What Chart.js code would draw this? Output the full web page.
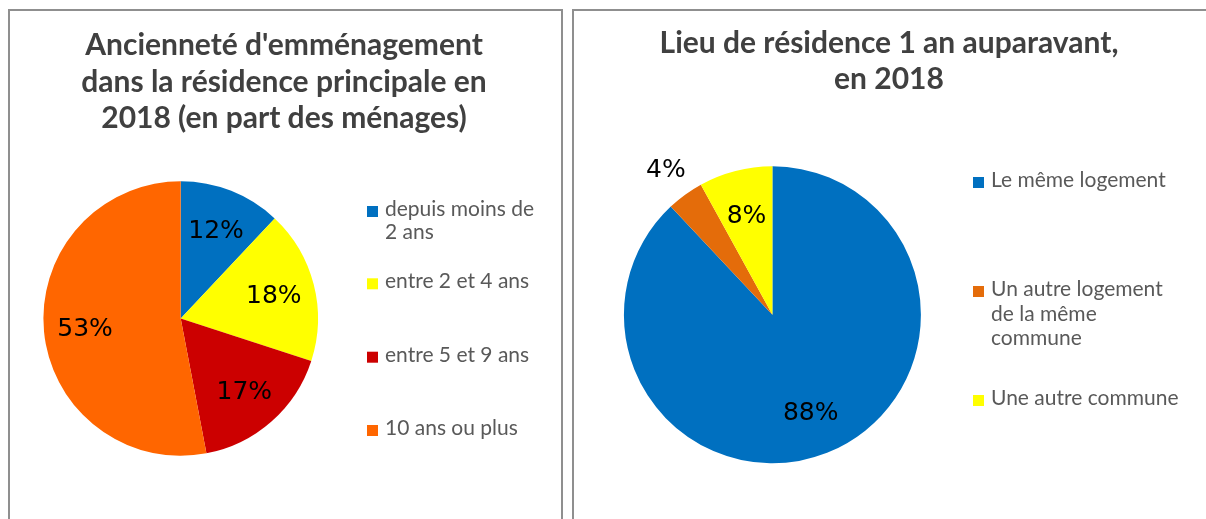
<!DOCTYPE html>
<html lang="fr">
<head>
<meta charset="utf-8">
<script src="https://cdn.jsdelivr.net/npm/chart.js@4.4.0/dist/chart.umd.min.js"></script>
<style>
  html, body { margin: 0; padding: 0; background: #fff; }
  body { width: 1206px; height: 519px; position: relative; overflow: hidden; }
  .panel { position: absolute; top: 9px; height: 520px; border: 2px solid #8f8f8f; border-bottom: none; box-sizing: border-box; }
  #panelLeft { left: 8px; width: 555px; }
  #panelRight { left: 572px; width: 700px; }
  canvas { position: absolute; top: 11px; }
  #chartLeft { left: 10px; }
  #chartRight { left: 574px; }
</style>
</head>
<body>
<div class="panel" id="panelLeft"></div>
<div class="panel" id="panelRight"></div>
<canvas id="chartLeft" width="550" height="508"></canvas>
<canvas id="chartRight" width="632" height="508"></canvas>
<script>
// Ancienneté d'emménagement (% des ménages)
const ancienneteLabels = [['depuis moins de', '2 ans'], 'entre 2 et 4 ans', 'entre 5 et 9 ans', '10 ans ou plus'];
const ancienneteValues = [12, 18, 17, 53];
const ancienneteColors = ['#0070C0', '#FFFF00', '#CC0000', '#FF6600'];
const ancienneteTitle = ["Ancienneté d'emménagement", 'dans la résidence principale en', '2018 (en part des ménages)'];

// Lieu de résidence 1 an auparavant
const residenceLabels = ['Le même logement', ['Un autre logement', 'de la même', 'commune'], 'Une autre commune'];
const residenceValues = [88, 4, 8];
const residenceColors = ['#0070C0', '#E46C0A', '#FFFF00'];
const residenceTitle = ['Lieu de résidence 1 an auparavant,', 'en 2018'];

// draws title, legend and % labels (Excel-like layout)
const excelText = {
  id: 'excelText',
  afterDatasetsDraw(chart, args, opts) {
    const ctx = chart.ctx;
    ctx.save();

    // title
    ctx.fillStyle = '#404040';
    ctx.font = 'bold 30px Lato';
    ctx.textAlign = 'center';
    ctx.textBaseline = 'alphabetic';
    opts.title.forEach((line, i) => {
      ctx.fillText(line, opts.titleX, opts.titleY + i * opts.titleLineHeight);
    });

    // percent labels
    const meta = chart.getDatasetMeta(0);
    const values = chart.data.datasets[0].data;
    ctx.fillStyle = '#000';
    ctx.font = '25px "DejaVu Sans"';
    ctx.textBaseline = 'middle';
    meta.data.forEach((arc, i) => {
      const p = arc.getProps(['x', 'y', 'startAngle', 'endAngle', 'outerRadius'], true);
      const mid = (p.startAngle + p.endAngle) / 2;
      const f = values[i] < 5 ? 1.22 : 0.7;
      const r = p.outerRadius * f;
      ctx.fillText(values[i] + '%', p.x + Math.cos(mid) * r, p.y + Math.sin(mid) * r + 2);
    });

    // legend
    const colors = chart.data.datasets[0].backgroundColor;
    ctx.font = '21px Lato';
    ctx.textAlign = 'left';
    ctx.textBaseline = 'alphabetic';
    chart.data.labels.forEach((label, i) => {
      const lines = Array.isArray(label) ? label : [label];
      const y = opts.legendY[i];
      ctx.fillStyle = colors[i];
      ctx.fillRect(opts.legendX, y - 10, 11, 11);
      ctx.fillStyle = '#595959';
      lines.forEach((line, j) => {
        ctx.fillText(line, opts.legendX + 18, y + j * opts.legendLineHeight);
      });
    });
    ctx.restore();
  }
};

function makePie(canvasId, labels, values, colors, padding, textOpts) {
  return new Chart(document.getElementById(canvasId), {
    type: 'pie',
    data: {
      labels: labels,
      datasets: [{
        data: values,
        backgroundColor: colors,
        borderWidth: 0,
        hoverOffset: 0,
        offset: 0,
      }],
    },
    options: {
      responsive: false,
      animation: false,
      layout: { padding: padding },
      plugins: {
        legend: { display: false },
        tooltip: { enabled: false },
        title: { display: false },
        excelText: textOpts,
      },
    },
    plugins: [excelText],
  });
}

makePie('chartLeft', ancienneteLabels, ancienneteValues, ancienneteColors,
  { left: 33.4, right: 242, top: 170.2, bottom: 63.2 },
  {
    title: ancienneteTitle, titleX: 274, titleY: 44, titleLineHeight: 36.5,
    legendX: 357, legendY: [205, 277.3, 350.7, 424], legendLineHeight: 23,
  });

makePie('chartRight', residenceLabels, residenceValues, residenceColors,
  { left: 49.9, right: 285.1, top: 155.3, bottom: 55.7 },
  {
    title: residenceTitle, titleX: 315, titleY: 42, titleLineHeight: 36,
    legendX: 399, legendY: [176, 285, 394], legendLineHeight: 24.5,
  });
</script>
</body>
</html>
